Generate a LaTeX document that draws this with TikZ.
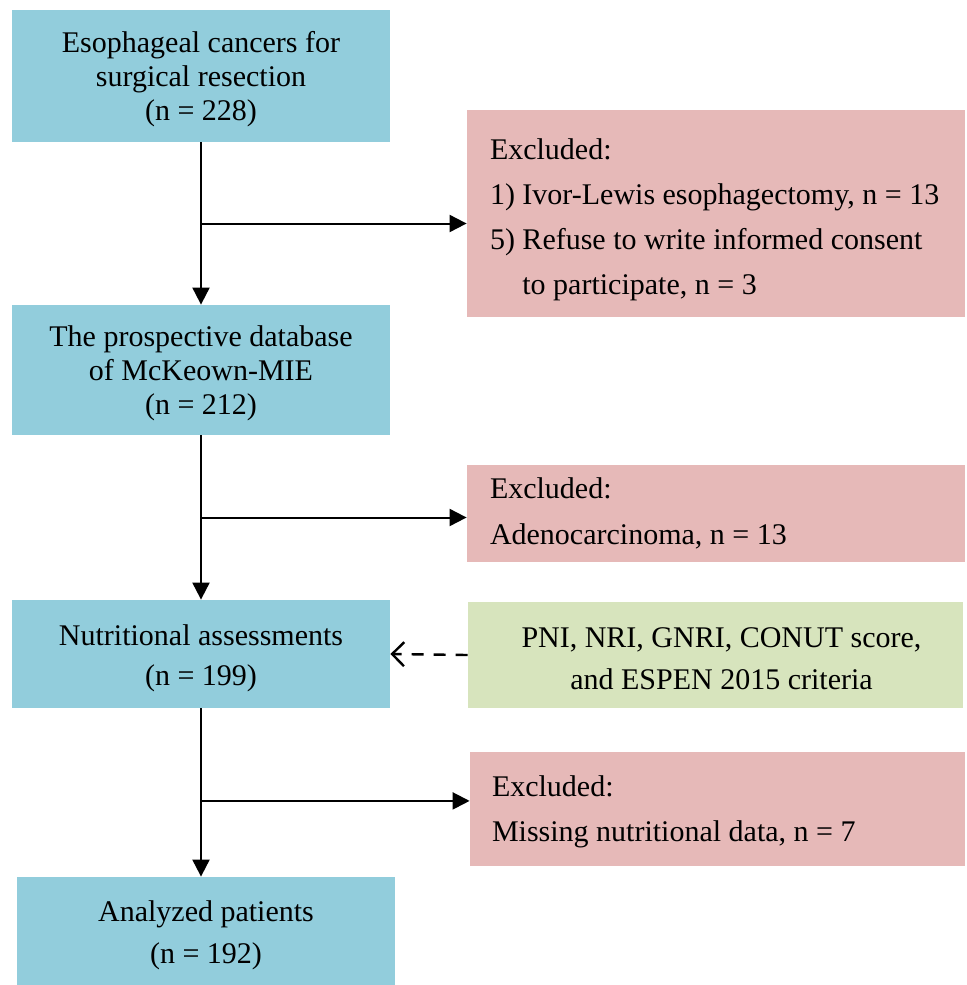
\documentclass[tikz,border=0pt]{standalone}
\usepackage{fontspec}
\setmainfont{Liberation Serif}
\usetikzlibrary{arrows.meta, calc}

\definecolor{boxblue}{RGB}{146,205,220}
\definecolor{boxpink}{RGB}{230,185,184}
\definecolor{boxgreen}{RGB}{215,228,189}

\newcommand{\topstrut}[1]{\rule{0pt}{#1}}

\tikzset{
  stage/.style={fill=boxblue, minimum width=189pt, align=center, inner sep=0pt},
  excl/.style={fill=boxpink, minimum width=249pt, text width=226pt, align=left, inner xsep=11.5pt, inner ysep=0pt,
    execute at begin node={\spaceskip=0pt\xspaceskip=0pt}},
  flow/.style={line width=1pt, -{Triangle[length=8.5pt,width=8.5pt]}},
  feed/.style={line width=1.2pt, dash pattern=on 6pt off 5pt, -{Straight Barb[length=6pt,width=12pt]}},
}

\begin{document}
\begin{tikzpicture}[x=0.5pt,y=0.5pt,yscale=-1,xscale=1]
\useasboundingbox (0,0) rectangle (966,985);

% Stage Nodes
\node [stage, minimum height=66pt, font=\fontsize{15}{17}\selectfont] (surg) at (201,76) {\topstrut{13.5pt}Esophageal cancers for\\surgical resection\\(n = 228)};
\node [stage, minimum height=65pt, font=\fontsize{15}{17}\selectfont] (db) at (201,370) {\topstrut{13.5pt}The prospective database\\of McKeown-MIE\\(n = 212)};
\node [stage, minimum height=54pt, font=\fontsize{15}{20}\selectfont] (assess) at (201,654) {\topstrut{14.5pt}Nutritional assessments\\(n = 199)};
\node [stage, minimum height=54pt, font=\fontsize{15}{21}\selectfont] (final) at (206,931) {\topstrut{15pt}Analyzed patients\\(n = 192)};

% Exclusion Nodes
\node [excl, minimum height=103.5pt, font=\fontsize{15}{22.5}\selectfont] (excl1) at (716,213.5) {\mbox{\topstrut{16.5pt}Excluded:}\\\mbox{1) Ivor-Lewis esophagectomy, n = 13}\\\mbox{5) Refuse to write informed consent}\\\mbox{\hspace*{1.08em}to participate, n = 3}};
\node [excl, minimum height=48.5pt, font=\fontsize{15}{23}\selectfont] (excl2) at (716,513.5) {\mbox{Excluded:}\\\mbox{Adenocarcinoma, n = 13}};
\node [excl, minimum width=247.5pt, text width=225.5pt, inner xsep=11pt, minimum height=57pt, font=\fontsize{15}{22.5}\selectfont] (excl3) at (717.5,809) {\mbox{\topstrut{13.5pt}Excluded:}\\\mbox{Missing nutritional data, n = 7}};

% Tools Node
\node [fill=boxgreen, minimum width=247.5pt, minimum height=53pt, align=center, inner sep=0pt, font=\fontsize{15}{21}\selectfont] (tools) at (715.5,655) {\topstrut{13.5pt}\hspace*{6pt}PNI, NRI, GNRI, CONUT score,\\\hspace*{6pt}and ESPEN 2015 criteria};

% Junctions
\coordinate (j1) at ($(surg.south)!0.5!(db.north)$);
\coordinate (j2) at ($(db.south)!0.5!(assess.north)$);
\coordinate (j3) at ($(assess.south)!0.55!(assess.south |- final.north)$);

%Straight Lines
\draw [flow] (surg.south) -- (db.north);
\draw [flow] (db.south) -- (assess.north);
\draw [flow] (assess.south) -- (assess.south |- final.north);
\draw [flow] (j1) -- (j1 -| excl1.west);
\draw [flow] (j2) -- (j2 -| excl2.west);
\draw [flow] (j3) -- (j3 -| excl3.west);
%Dashed Line
\draw [feed] (tools.west) -- (assess.east);

\end{tikzpicture}
\end{document}
